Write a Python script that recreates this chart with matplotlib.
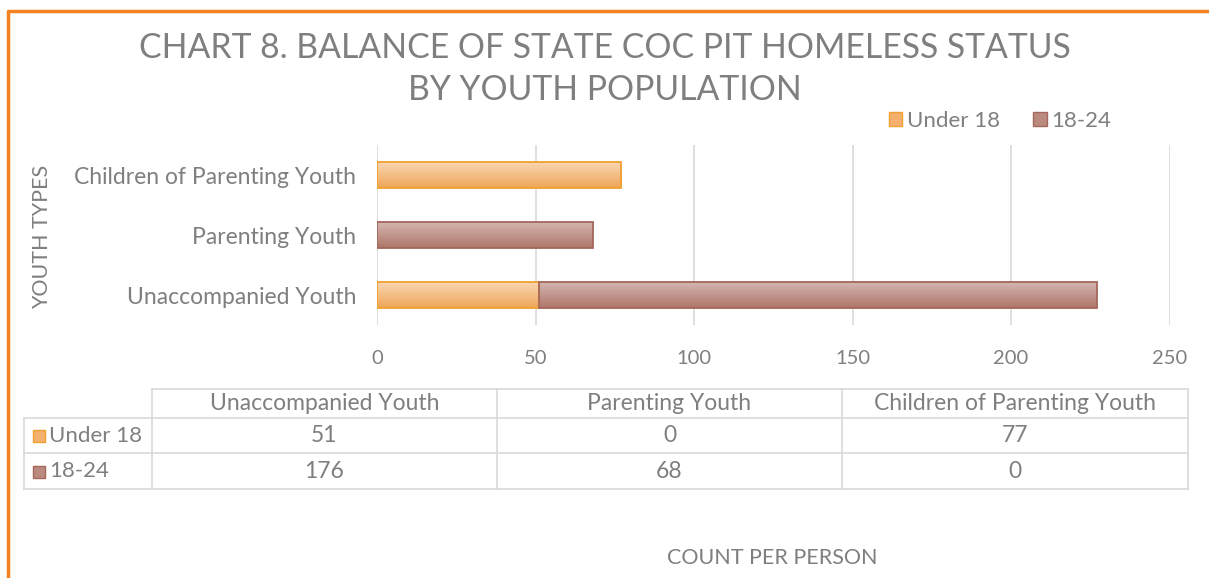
import matplotlib
matplotlib.use('Agg')

import numpy as np
import matplotlib.pyplot as plt
from matplotlib.patches import Patch
from matplotlib.colors import LinearSegmentedColormap

# data
categories = ["Unaccompanied Youth", "Parenting Youth", "Children of Parenting Youth"]
under18 = [51, 0, 77]
age18_24 = [176, 68, 0]
series_names = ["Under 18", "18-24"]
xticks = [0, 50, 100, 150, 200, 250]

W, H = 1209, 578
plt.rcParams['font.family'] = ['Lato', 'DejaVu Sans']

ORANGE = '#F4B06E'
ORANGE_EDGE = '#EFA032'
BROWN = '#BA8A80'
BROWN_EDGE = '#A5675A'
TXT = '#7F7F7F'
GRID = '#D9D9D9'
FS = 16.5

grad_orange = LinearSegmentedColormap.from_list('go', ['#EFA558', '#F9D6B2'])
grad_brown = LinearSegmentedColormap.from_list('gb', ['#AE7669', '#D4B6B0'])

fig = plt.figure(figsize=(W / 100, H / 100), dpi=100)

# overlay for frame, table, titles (pixel coords)
ov = fig.add_axes([0, 0, 1, 1])
ov.set_xlim(0, W)
ov.set_ylim(H, 0)
ov.axis('off')

ov.plot([7.5, 7.5, W + 5], [H + 5, 10.5, 10.5], color='#F58220', lw=2.5, solid_capstyle='butt')

ov.text(605, 48, "CHART 8. BALANCE OF STATE COC PIT HOMELESS STATUS",
        ha='center', va='center', fontsize=24.3, color=TXT)
ov.text(605, 90, "BY YOUTH POPULATION", ha='center', va='center', fontsize=24.3, color=TXT)

# main bar chart
ax = fig.add_axes([377 / W, 1 - 325 / H, 792.5 / W, 180 / H])
ypos = range(len(categories))
bh = 0.43
b1 = ax.barh(ypos, under18, height=bh, color=ORANGE, edgecolor=ORANGE_EDGE, lw=1.3, zorder=3)
b2 = ax.barh(ypos, age18_24, left=under18, height=bh, color=BROWN, edgecolor=BROWN_EDGE, lw=1.3, zorder=3)
ax.set_xlim(0, 250)
ax.set_ylim(-0.5, 2.5)

# gradient fill inside each bar
grad = np.linspace(0, 1, 64).reshape(-1, 1)
for bars, cmap in [(b1, grad_orange), (b2, grad_brown)]:
    for p in bars:
        if p.get_width() <= 0:
            continue
        x0, y0 = p.get_x(), p.get_y()
        im = ax.imshow(grad, cmap=cmap, aspect='auto', origin='lower',
                       extent=(x0, x0 + p.get_width(), y0, y0 + p.get_height()), zorder=3.5)
        im.set_clip_path(p)
        p.set_facecolor('none')
        p.set_zorder(4)
ax.set_xlim(0, 250)
ax.set_ylim(-0.5, 2.5)

ax.set_xticks(xticks)
ax.set_yticks(list(ypos))
ax.set_yticklabels(categories)
ax.tick_params(length=0, labelsize=FS, labelcolor=TXT)
ax.tick_params(axis='x', labelsize=14.5, pad=18)
ax.tick_params(axis='y', pad=15)
ax.grid(axis='x', color=GRID, lw=1.2, zorder=0)
for s in ax.spines.values():
    s.set_visible(False)

ov.text(42, 237, "YOUTH TYPES", rotation=90, ha='center', va='center', fontsize=15.5, color=TXT)

handles = [Patch(facecolor=ORANGE, edgecolor=ORANGE_EDGE), Patch(facecolor=BROWN, edgecolor=BROWN_EDGE)]
fig.legend(handles, series_names, loc='center', bbox_to_anchor=(1000 / W, 1 - 121 / H),
           ncol=2, frameon=False, fontsize=16, labelcolor=TXT, handlelength=0.6, handleheight=0.6,
           handletextpad=0.2, columnspacing=1.5)

# data table
col_x = [24, 152, 497, 842, 1188]
row_y = [389, 418, 453, 489]
tc = '#D9D9D9'
ov.plot([col_x[1], col_x[-1]], [row_y[0], row_y[0]], color=tc, lw=1.2)
for y in row_y[1:]:
    ov.plot([col_x[0], col_x[-1]], [y, y], color=tc, lw=1.2)
ov.plot([col_x[0], col_x[0]], [row_y[1], row_y[-1]], color=tc, lw=1.2)
for x in col_x[1:]:
    ov.plot([x, x], [row_y[0], row_y[-1]], color=tc, lw=1.2)

for j, cat in enumerate(categories):
    cx = (col_x[j + 1] + col_x[j + 2]) / 2
    ov.text(cx, (row_y[0] + row_y[1]) / 2, cat, ha='center', va='center', fontsize=FS, color=TXT)
    ov.text(cx, (row_y[1] + row_y[2]) / 2, str(under18[j]), ha='center', va='center', fontsize=FS, color=TXT)
    ov.text(cx, (row_y[2] + row_y[3]) / 2, str(age18_24[j]), ha='center', va='center', fontsize=FS, color=TXT)

for i, (name, fc, ec) in enumerate([(series_names[0], ORANGE, ORANGE_EDGE), (series_names[1], BROWN, BROWN_EDGE)]):
    yc = (row_y[i + 1] + row_y[i + 2]) / 2
    ov.add_patch(plt.Rectangle((33, yc - 5.5), 12, 12, facecolor=fc, edgecolor=ec, lw=1))
    ov.text(49, yc, name, ha='left', va='center', fontsize=16, color=TXT)

ov.text(772, 558, "COUNT PER PERSON", ha='center', va='center', fontsize=15.5, color=TXT)

plt.savefig('out.png', dpi=100)
plt.close()
